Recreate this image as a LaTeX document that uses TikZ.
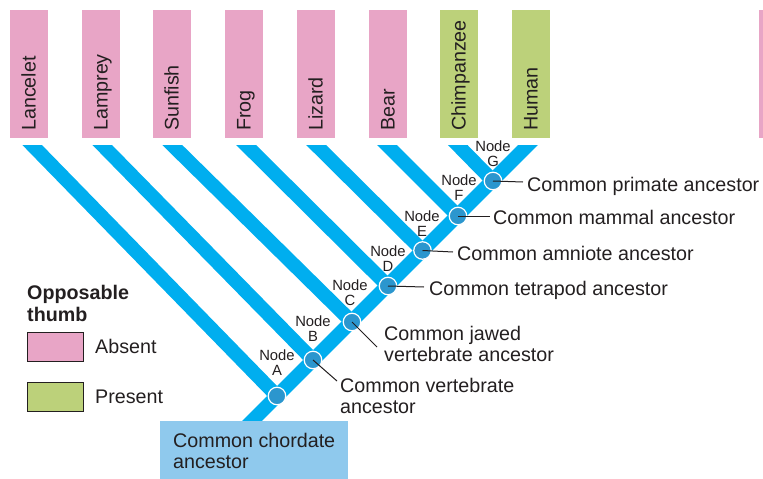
\documentclass[tikz,border=0pt]{standalone}
\usepackage{fontspec}
\setmainfont{Liberation Sans}
\definecolor{absent}{HTML}{E8A5C6}
\definecolor{present}{HTML}{BCD17A}
\definecolor{branchblue}{HTML}{00AEEF}
\definecolor{nodeblue}{HTML}{2B96CE}
\definecolor{rootblue}{HTML}{8FC9ED}
\definecolor{ink}{HTML}{231F20}
\begin{document}
\begin{tikzpicture}[x=1pt,y=-1pt,
  txt/.style={text=ink, inner sep=0pt, font=\fontsize{19.7}{21.5}\selectfont},
  taxon/.style={txt, rotate=90, anchor=base west},
  traitbox/.style={anchor=north west, inner sep=0pt, minimum width=38pt, minimum height=128pt},
  branch/.style={draw=branchblue, line width=14pt},
  junction/.style={circle, fill=nodeblue, draw=white, line width=1.2pt, minimum size=17.5pt, inner sep=0pt},
  nodetag/.style={text=ink, inner sep=0pt, align=center, anchor=south, font=\fontsize{14.8}{15}\selectfont},
  leader/.style={draw=ink, line width=1pt},
  swatch/.style={anchor=north west, draw=ink, line width=0.9pt, minimum width=56pt, minimum height=29pt, inner sep=0pt}
]
\useasboundingbox (0,0) rectangle (763,479);

% taxon boxes with their names
\foreach \name/\x/\col [count=\i] in {Lancelet/10/absent, Lamprey/82/absent, Sunfish/153/absent, Frog/225/absent, Lizard/297/absent, Bear/369/absent, Chimpanzee/440/present, Human/512/present}{
  \node[traitbox, fill=\col] (box\i) at (\x,10) {};
  \node[taxon] (name\i) at (\x+25.5,131) {\name};
}
\node[traitbox, fill=absent, minimum width=4pt] (edgebox) at (759,10) {};

% branching points along the trunk
\coordinate (pA) at (277,396);
\coordinate (pB) at (313,360);
\coordinate (pC) at (352,322);
\coordinate (pD) at (388,286);
\coordinate (pE) at (422.5,250.5);
\coordinate (pF) at (458,216);
\coordinate (pG) at (493,181);
% upper ends of the side branches
\coordinate (tA) at (17.5,130);
\coordinate (tB) at (87.5,130);
\coordinate (tC) at (157,130);
\coordinate (tD) at (231,130);
\coordinate (tE) at (301,130);
\coordinate (tF) at (372,130);
\coordinate (tG) at (443,130);
\coordinate (root) at (233,440);
\coordinate (apex) at (543,130);

% trunk and side branches, cut flat just below the boxes
\begin{scope}
  \clip (0,145) rectangle (763,479);
  \draw[branch] (root) -- (apex);
  \foreach \n in {A,B,C,D,E,F,G}{
    \draw[branch] (p\n) -- (t\n);
  }
\end{scope}

% ancestor box at the base of the tree
\node[anchor=north west, fill=rootblue, minimum width=188pt, minimum height=60pt, inner sep=0pt,
      txt, align=left] (chordate) at (160,421) {Common chordate\\ancestor};

% node markers
\foreach \n in {A,B,C,D,E,F,G}{
  \node[junction] (\n) at (p\n) {};
}

% node tags
\node[nodetag] (tagA) at (277,376) {Node\\A};
\node[nodetag] (tagB) at (313,342) {Node\\B};
\node[nodetag] (tagC) at (350,306) {Node\\C};
\node[nodetag] (tagD) at (388,272) {Node\\D};
\node[nodetag] (tagE) at (422,237) {Node\\E};
\node[nodetag] (tagF) at (459,201) {Node\\F};
\node[nodetag] (tagG) at (493,167) {Node\\G};

% ancestor labels and their leaders
\node[txt, anchor=base west] (primate) at (527,191) {Common primate ancestor};
\node[txt, anchor=base west] (mammal) at (493,224) {Common mammal ancestor};
\node[txt, anchor=base west] (amniote) at (457,260) {Common amniote ancestor};
\node[txt, anchor=base west] (tetrapod) at (429,295) {Common tetrapod ancestor};
\node[txt, anchor=north west, align=left] (jawed) at (384,325.6) {Common jawed\\vertebrate ancestor};
\node[txt, anchor=north west, align=left] (vertebrate) at (340,377.6) {Common vertebrate\\ancestor};

\coordinate (endG) at (523,182);
\coordinate (endF) at (490,216);
\coordinate (endE) at (453,252);
\coordinate (endD) at (424,287);
\coordinate (endC) at (377,347);
\coordinate (endB) at (337,381);
\foreach \n in {B,C,D,E,F,G}{
  \draw[leader] (\n.center) -- (end\n);
}

% legend
\node[txt, anchor=north west, align=left, font=\fontsize{19.7}{22}\selectfont\bfseries] (legendtitle) at (27,284.6) {Opposable\\thumb};
\node[swatch, fill=absent] (absentkey) at (27,332) {};
\node[swatch, fill=present] (presentkey) at (27,382) {};
\node[txt, anchor=base west] (absentlabel) at (95,353) {Absent};
\node[txt, anchor=base west] (presentlabel) at (95,403) {Present};
\end{tikzpicture}
\end{document}
